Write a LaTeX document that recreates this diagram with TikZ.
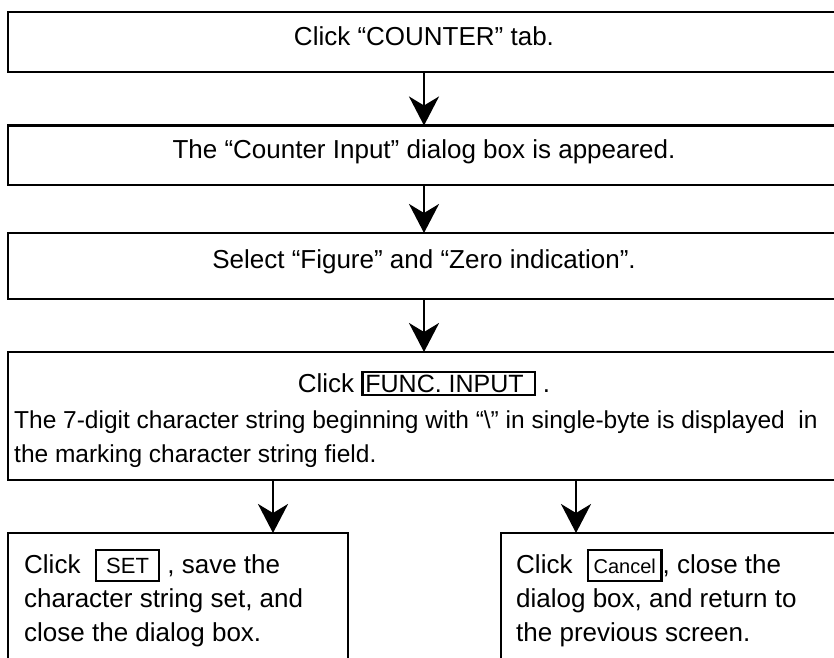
\documentclass[tikz,border=0pt]{standalone}
\usepackage{fontspec}
\setmainfont{Liberation Sans}
\usetikzlibrary{positioning,arrows.meta}
% framed key label: #1 padding, #2 font size, #3 contents
\newcommand{\keybox}[3]{{\setlength{\fboxrule}{2.2pt}\setlength{\fboxsep}{#1}\fbox{\fontsize{#2}{#2}\selectfont#3}}}

\begin{document}
\begin{tikzpicture}[x=1pt, y=1pt,
    stepbox/.style={draw, line width=2.6pt, inner sep=0pt, outer sep=0pt},
    txt/.style={inner sep=0pt, font=\fontsize{26}{34}\selectfont},
    small/.style={inner sep=0pt, font=\fontsize{24.5}{34}\selectfont},
    flow/.style={-{Stealth[length=29pt,width=30pt,inset=9pt]}, line width=2.6pt}]
  \useasboundingbox (0,0) rectangle (834,-657);

  % ---------------- main column of steps
  \node[stepbox, minimum width=832pt, minimum height=60pt] (tab) at (424,-42) {};
  \node[txt, anchor=base] (tabtxt) at (424,-45.5) {Click “COUNTER” tab.};

  \node[stepbox, minimum width=832pt, minimum height=59.5pt] (dlg) at (424,-155.25) {};
  \node[txt, anchor=base] (dlgtxt) at (424,-158.5) {The “Counter Input” dialog box is appeared.};

  \node[stepbox, minimum width=832pt, minimum height=66pt] (sel) at (424,-266) {};
  \node[txt, anchor=base] (seltxt) at (424,-268) {Select “Figure” and “Zero indication”.};

  \node[stepbox, minimum width=832pt, minimum height=128pt] (func) at (424,-416) {};
  \node[txt, anchor=base] (functxt) at (424,-392) {Click \keybox{1.8pt}{25}{FUNC. INPUT\hspace{8pt}} .};
  \node[small, anchor=base west] (funcln2) at (14,-428)
       {The 7-digit character string beginning with “\textbackslash” in single-byte is displayed~ in};
  \node[small, anchor=base west] (funcln3) at (14,-462) {the marking character string field.};

  % ---------------- two outcomes
  \node[stepbox, minimum width=340pt, minimum height=167pt] (setbox) at (178,-616.5) {};
  \node[txt, anchor=base west] (setln1) at (24,-573)
       {Click~ \keybox{2pt}{22}{\rule[-5pt]{0pt}{25pt}\hspace{7pt}SET\hspace{7pt}} , save the};
  \node[txt, anchor=base west] (setln2) at (24,-607) {character string set, and};
  \node[txt, anchor=base west] (setln3) at (24,-641) {close the dialog box.};

  \node[stepbox, minimum width=339pt, minimum height=167pt] (cancelbox) at (670.5,-616.5) {};
  \node[txt, anchor=base west] (canln1) at (516,-573)
       {Click~~\keybox{2pt}{20}{\rule[-5pt]{0pt}{25pt}\hspace{2.5pt}Cancel\hspace{2.5pt}}, close the};
  \node[txt, anchor=base west] (canln2) at (516,-607) {dialog box, and return to};
  \node[txt, anchor=base west] (canln3) at (516,-641) {the previous screen.};

  % ---------------- arrows
  \coordinate (forkL) at (273,-500);
  \coordinate (forkR) at (576,-500);
  \draw[flow] (tab) -- (dlg);
  \draw[flow] (dlg) -- (sel);
  \draw[flow] (sel) -- (func);
  \draw[flow] (func.south -| forkL) -- (setbox.north -| forkL);
  \draw[flow] (func.south -| forkR) -- (cancelbox.north -| forkR);
\end{tikzpicture}
\end{document}
